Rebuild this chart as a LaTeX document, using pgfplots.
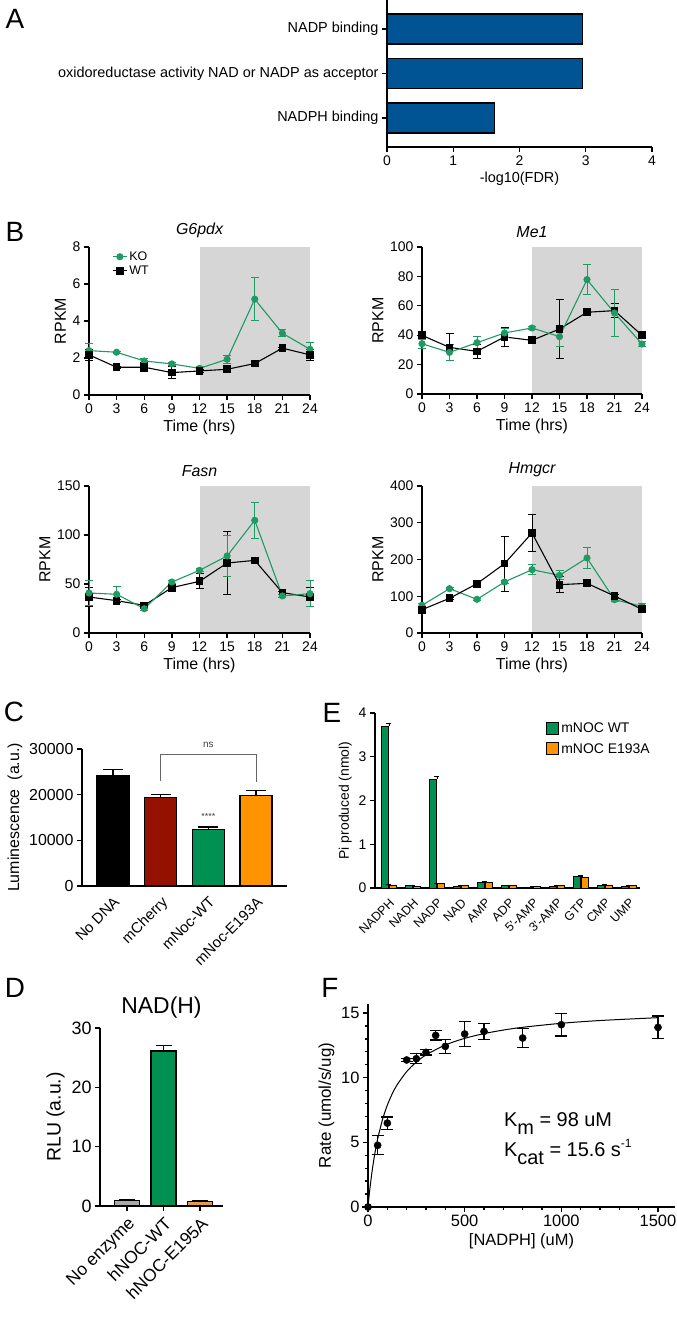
\documentclass[border=0pt]{standalone}
\usepackage{fontspec}
\setmainfont{Liberation Sans}
\usepackage{pgfplots}
\pgfplotsset{compat=1.18}
\definecolor{ocean}{HTML}{005493}
\definecolor{moss}{HTML}{009051}
\definecolor{lgreen}{HTML}{1F9A63}
\definecolor{cayenne}{HTML}{941100}
\definecolor{tangerine}{HTML}{FF9300}
\definecolor{shade}{HTML}{D6D6D6}
\definecolor{lgray}{HTML}{A8A8A8}
\definecolor{dorange}{HTML}{E69A4C}
\newcommand{\fs}[1]{\fontsize{#1}{#1}\selectfont}
\newcommand{\ap}{{\char39}}
\pgfplotsset{
  base/.style={scale only axis, axis lines*=left,
    axis line style={line width=1.3bp, black},
    every tick/.style={line width=1.3bp, black},
    tick align=outside, major tick length=5bp, minor tick length=3bp,
    /pgf/number format/assume math mode=true,
    /pgf/number format/1000 sep={}, scaled ticks=false,
    tick label style={font=\fs{14}}, label style={font=\fs{16}},
    clip=false},
  bst/.style={base, width=221bp, height=148bp, xmin=0, xmax=24,
    xtick={0,3,...,24}, ymin=0, xlabel={Time (hrs)}, ylabel={RPKM},
    title style={font=\fs{16}\itshape}},
  ko/.style={lgreen, line width=1.1bp, mark=*, mark size=3bp,
    mark options={fill=lgreen, draw=lgreen, solid},
    error bars/y dir=both, error bars/y explicit,
    error bars/error bar style={line width=1bp, lgreen},
    error bars/error mark options={rotate=90, mark size=4bp, line width=1bp, lgreen}},
  wt/.style={black, line width=1.1bp, mark=square*, mark size=3.3bp,
    mark options={fill=black, draw=black, solid},
    error bars/y dir=both, error bars/y explicit,
    error bars/error bar style={line width=1bp, black},
    error bars/error mark options={rotate=90, mark size=4bp, line width=1bp, black}},
}
\begin{document}
\begin{tikzpicture}
\useasboundingbox (0,0) rectangle (677bp,1320bp);
% panel letters
\node[font=\fs{28}] at (15bp,1301bp) {A};
\node[font=\fs{28}] at (15bp,1088bp) {B};
\node[font=\fs{28}] at (14bp,608bp) {C};
\node[font=\fs{28}] at (15bp,332bp) {D};
\node[font=\fs{28}] at (332bp,607bp) {E};
\node[font=\fs{28}] at (330bp,332bp) {F};

% ---------- A ----------
\begin{axis}[base, at={(387bp,1173bp)}, anchor=south west, width=265bp, height=147bp,
  xmin=0, xmax=4, xtick={0,1,2,3,4}, ymin=0.348, ymax=3.652, ytick={1,2,3},
  yticklabels={NADPH binding, oxidoreductase activity NAD or NADP as acceptor, NADP binding},
  yticklabel style={font=\fs{14.5}}, xlabel={-log10(FDR)}, xlabel style={font=\fs{14.5}}]
\addplot[xbar, bar width=30bp, bar shift=0pt, fill=ocean, draw=black, line width=1.3bp]
  coordinates {(1.62,1) (2.95,2) (2.95,3)};
\end{axis}

% ---------- B: G6pdx ----------
\begin{axis}[bst, at={(89bp,925bp)}, anchor=south west, ymax=8, ytick={0,2,...,8},
  title={G6pdx},
  legend style={draw=none, fill=none, at={(0.1,0.99)}, anchor=north west,
    font=\fs{12.5}, row sep=0bp, inner sep=1bp}, legend cell align=left,
  legend image code/.code={\draw[#1] (0bp,0bp) -- (14bp,0bp); \draw[#1, only marks] plot coordinates {(7bp,0bp)};}]
\addplot[fill=shade, draw=none, forget plot] coordinates {(12,0.04) (12,8) (24,8) (24,0.04)} -- cycle;
\addplot[ko] coordinates {(0,2.40)+-(0,0.4) (3,2.31)+-(0,0.05) (6,1.84)+-(0,0.15) (9,1.68)+-(0,0.1) (12,1.44)+-(0,0.12) (15,1.93)+-(0,0.22) (18,5.18)+-(0,1.18) (21,3.34)+-(0,0.2) (24,2.47)+-(0,0.35)};
\addlegendentry{KO}
\addplot[wt] coordinates {(0,2.17)+-(0,0.3) (3,1.50)+-(0,0.05) (6,1.50)+-(0,0.25) (9,1.21)+-(0,0.33) (12,1.30)+-(0,0.08) (15,1.39)+-(0,0.05) (18,1.70)+-(0,0.05) (21,2.53)+-(0,0.05) (24,2.17)+-(0,0.3)};
\addlegendentry{WT}
\end{axis}

% ---------- B: Me1 ----------
\begin{axis}[bst, at={(422bp,926bp)}, anchor=south west, width=220bp, height=147bp,
  ymax=100, ytick={0,20,...,100}, title={Me1}]
\addplot[fill=shade, draw=none, forget plot] coordinates {(12,0.45) (12,100) (24,100) (24,0.45)} -- cycle;
\addplot[wt] coordinates {(0,39.9)+-(0,2) (3,31.7)+-(0,9.2) (6,29.0)+-(0,5) (9,38.8)+-(0,6.5) (12,36.5)+-(0,1) (15,44.2)+-(0,20.3) (18,55.6)+-(0,1) (21,56.7)+-(0,5) (24,39.9)+-(0,1)};
\addplot[ko] coordinates {(0,34.2)+-(0,3) (3,28.3)+-(0,5.5) (6,34.9)+-(0,4.3) (9,41.5)+-(0,3) (12,44.9)+-(0,1) (15,39.0)+-(0,6.5) (18,77.8)+-(0,10.4) (21,55.1)+-(0,16.3) (24,34.0)+-(0,2)};
\end{axis}

% ---------- B: Fasn ----------
\begin{axis}[bst, at={(89bp,687bp)}, anchor=south west, height=147bp,
  ymax=150, ytick={0,50,100,150}, title={Fasn}]
\addplot[fill=shade, draw=none, forget plot] coordinates {(12,0.67) (12,150) (24,150) (24,0.67)} -- cycle;
\addplot[wt] coordinates {(0,36.7)+-(0,10) (3,33.0)+-(0,1.5) (6,28.2)+-(0,3) (9,46.3)+-(0,3.5) (12,52.7)+-(0,7.7) (15,71.4)+-(0,32) (18,74.1)+-(0,1.5) (21,41.2)+-(0,1.5) (24,36.7)+-(0,10)};
\addplot[ko] coordinates {(0,40.8)+-(0,13) (3,39.5)+-(0,7.5) (6,24.8)+-(0,1.5) (9,52.0)+-(0,1.5) (12,63.9)+-(0,1.5) (15,78.6)+-(0,21) (18,115)+-(0,18.5) (21,37.8)+-(0,1.5) (24,40.1)+-(0,13)};
\end{axis}

% ---------- B: Hmgcr ----------
\begin{axis}[bst, at={(422bp,687bp)}, anchor=south west, width=220bp, height=147bp,
  ymax=400, ytick={0,100,...,400}, title={Hmgcr}]
\addplot[fill=shade, draw=none, forget plot] coordinates {(12,1.8) (12,400) (24,400) (24,1.8)} -- cycle;
\addplot[ko] coordinates {(0,75.3)+-(0,5) (3,120.6)+-(0,3) (6,91.6)+-(0,3) (9,138.8)+-(0,4) (12,172.3)+-(0,13) (15,156.9)+-(0,12) (18,204.1)+-(0,28) (21,90.7)+-(0,4) (24,72.6)+-(0,8)};
\addplot[wt] coordinates {(0,63.5)+-(0,3) (3,94.3)+-(0,3) (6,134.2)+-(0,8) (9,188.7)+-(0,75) (12,272.1)+-(0,49) (15,131.5)+-(0,21) (18,135.1)+-(0,3) (21,100.7)+-(0,3) (24,64.4)+-(0,3)};
\end{axis}

% ---------- C ----------
\begin{axis}[base, at={(82bp,434bp)}, anchor=south west, width=205bp, height=137bp,
  xmin=-0.65, xmax=3.65, ymin=0, ymax=30000, ytick={0,10000,20000,30000},
  tick label style={font=\fs{16}},
  xtick={0,1,2,3}, xticklabels={No DNA, mCherry, mNoc-WT, mNoc-E193A},
  xticklabel style={rotate=45, anchor=north east, font=\fs{15}},
  xtick style={draw=none}, ylabel={Luminescence\ \ (a.u.)}]
\addplot[ybar, bar width=32bp, bar shift=0pt, fill=black, draw=black, line width=1.5bp,
  error bars/.cd, y dir=plus, y explicit, error bar style={line width=1.3bp, black},
  error mark options={rotate=90, mark size=10bp, line width=1.3bp, black}]
  coordinates {(0,24200)+-(0,1300)};
\addplot[ybar, bar width=32bp, bar shift=0pt, fill=cayenne, draw=black, line width=1.5bp,
  error bars/.cd, y dir=plus, y explicit, error bar style={line width=1.3bp, black},
  error mark options={rotate=90, mark size=10bp, line width=1.3bp, black}]
  coordinates {(1,19400)+-(0,700)};
\addplot[ybar, bar width=32bp, bar shift=0pt, fill=moss, draw=black, line width=1.5bp,
  error bars/.cd, y dir=plus, y explicit, error bar style={line width=1.3bp, black},
  error mark options={rotate=90, mark size=10bp, line width=1.3bp, black}]
  coordinates {(2,12400)+-(0,500)};
\addplot[ybar, bar width=32bp, bar shift=0pt, fill=tangerine, draw=black, line width=1.5bp,
  error bars/.cd, y dir=plus, y explicit, error bar style={line width=1.3bp, black},
  error mark options={rotate=90, mark size=10bp, line width=1.3bp, black}]
  coordinates {(3,19800)+-(0,1100)};
\draw[black!60, line width=0.8bp] (axis cs:1,23000) -- (axis cs:1,28900) -- (axis cs:3,28900) -- (axis cs:3,22800);
\node[font=\fs{10}, black!75] at (axis cs:2,31000) {ns};
\node[font=\fs{9}, black!75] at (axis cs:2,15300) {****};
\end{axis}

% ---------- E ----------
\begin{axis}[base, at={(375bp,432bp)}, anchor=south west, width=265bp, height=175bp,
  xmin=-0.58, xmax=10.46, ymin=0, ymax=4, ytick={0,1,2,3,4},
  xtick={0,...,10}, xticklabels={NADPH,NADH,NADP,NAD,AMP,ADP,5\ap-AMP,3\ap-AMP,GTP,CMP,UMP},
  xticklabel style={rotate=45, anchor=north east, font=\fs{12.5}},
  xtick style={draw=none}, ylabel={Pi produced (nmol)}, ylabel style={font=\fs{14}},
  legend style={draw=none, fill=none, at={(0.645,0.955)}, anchor=north west,
    font=\fs{14}, row sep=5bp, inner sep=0bp},
  legend cell align=left,
  legend image code/.code={\draw[#1,/tikz/.cd, draw=black, line width=1.2bp] (0bp,-6bp) rectangle (12bp,6bp);}]
\addplot[ybar, bar width=7.5bp, bar shift=-4bp, fill=moss, draw=black, line width=0.8bp,
  error bars/.cd, y dir=plus, y explicit, error bar style={line width=0.8bp, black},
  error mark options={rotate=90, mark size=2.5bp, line width=0.8bp, black}]
  coordinates {(0,3.70)+-(0,0.07) (1,0.05)+-(0,0.01) (2,2.48)+-(0,0.06) (3,0.04)+-(0,0.01) (4,0.13)+-(0,0.01) (5,0.06)+-(0,0.01) (6,0.02)+-(0,0.01) (7,0.04)+-(0,0.01) (8,0.27)+-(0,0.02) (9,0.05)+-(0,0.01) (10,0.04)+-(0,0.01)};
\addlegendentry{mNOC WT}
\addplot[ybar, bar width=7.5bp, bar shift=4bp, fill=tangerine, draw=black, line width=0.8bp,
  error bars/.cd, y dir=plus, y explicit, error bar style={line width=0.8bp, black},
  error mark options={rotate=90, mark size=2.5bp, line width=0.8bp, black}]
  coordinates {(0,0.07)+-(0,0.01) (1,0.04)+-(0,0.01) (2,0.10)+-(0,0.01) (3,0.05)+-(0,0.01) (4,0.13)+-(0,0.01) (5,0.06)+-(0,0.01) (6,0.03)+-(0,0.01) (7,0.05)+-(0,0.01) (8,0.25)+-(0,0.02) (9,0.07)+-(0,0.01) (10,0.06)+-(0,0.01)};
\addlegendentry{mNOC E193A}
\end{axis}

% ---------- D ----------
\begin{axis}[base, at={(100bp,114bp)}, anchor=south west, width=123bp, height=178bp,
  xmin=-0.74, xmax=2.63, ymin=0, ymax=30, ytick={0,10,20,30},
  tick label style={font=\fs{18}},
  xtick={0,1,2}, xticklabels={No enzyme, hNOC-WT, hNOC-E195A},
  xticklabel style={rotate=45, anchor=north east, font=\fs{17.5}},
  ylabel={RLU (a.u.)}, ylabel style={font=\fs{19.5}},
  title={NAD(H)}, title style={font=\fs{23}}]
\addplot[ybar, bar width=25bp, bar shift=0pt, fill=lgray, draw=black, line width=1.3bp,
  error bars/.cd, y dir=plus, y explicit, error bar style={line width=1.3bp, black},
  error mark options={rotate=90, mark size=8bp, line width=1.3bp, black}]
  coordinates {(0,0.9)+-(0,0.2)};
\addplot[ybar, bar width=25bp, bar shift=0pt, fill=moss, draw=black, line width=1.3bp,
  error bars/.cd, y dir=plus, y explicit, error bar style={line width=1.3bp, black},
  error mark options={rotate=90, mark size=8bp, line width=1.3bp, black}]
  coordinates {(1,26.1)+-(0,0.9)};
\addplot[ybar, bar width=25bp, bar shift=0pt, fill=dorange, draw=black, line width=1.3bp,
  error bars/.cd, y dir=plus, y explicit, error bar style={line width=1.3bp, black},
  error mark options={rotate=90, mark size=8bp, line width=1.3bp, black}]
  coordinates {(2,0.8)+-(0,0.15)};
\end{axis}

% ---------- F ----------
\begin{axis}[base, at={(368bp,113bp)}, anchor=south west, width=307bp, height=203bp,
  xmin=0, xmax=1588, ymin=0, ymax=15.7, xtick={0,500,1000,1500}, ytick={0,5,10,15},
  minor x tick num=4, minor y tick num=4,
  tick label style={font=\fs{16.5}},
  xlabel={[NADPH] (uM)}, xlabel style={font=\fs{16.5}},
  ylabel={Rate (umol/s/ug)}, ylabel style={font=\fs{17}}]
\addplot[black, line width=1bp, smooth] coordinates {(0,0) (5,0.757) (10,1.444) (20,2.644) (30,3.656) (40,4.522) (50,5.270) (75,6.763) (100,7.879) (125,8.744) (150,9.435) (200,10.470) (250,11.207) (300,11.759) (400,12.530) (500,13.043) (600,13.410) (700,13.684) (800,13.898) (1000,14.208) (1200,14.422) (1500,14.643)};
\addplot[only marks, black, mark=*, mark size=3.6bp, mark options={fill=black},
  error bars/.cd, y dir=both, y explicit, error bar style={line width=1.2bp, black},
  error mark options={rotate=90, mark size=6bp, line width=1.2bp, black}]
  coordinates {(0,0)+-(0,0) (50,4.77)+-(0,0.73) (100,6.49)+-(0,0.47) (200,11.37)+-(0,0.12) (250,11.47)+-(0,0.38) (300,11.96)+-(0,0.2) (350,13.27)+-(0,0.35) (400,12.42)+-(0,0.52) (500,13.38)+-(0,0.97) (600,13.58)+-(0,0.64) (800,13.07)+-(0,0.74) (1000,14.1)+-(0,0.88) (1500,13.89)+-(0,0.88)};
\node[anchor=base west, font=\fs{20}, inner sep=0pt] at (axis cs:703,6.19) {K\raisebox{-0.4em}{m} = 98 uM};
\node[anchor=base west, font=\fs{20}, inner sep=0pt] at (axis cs:703,3.87) {K\raisebox{-0.4em}{cat} = 15.6 s\raisebox{0.45em}{\fs{12}-1}};
\end{axis}
\end{tikzpicture}
\end{document}
